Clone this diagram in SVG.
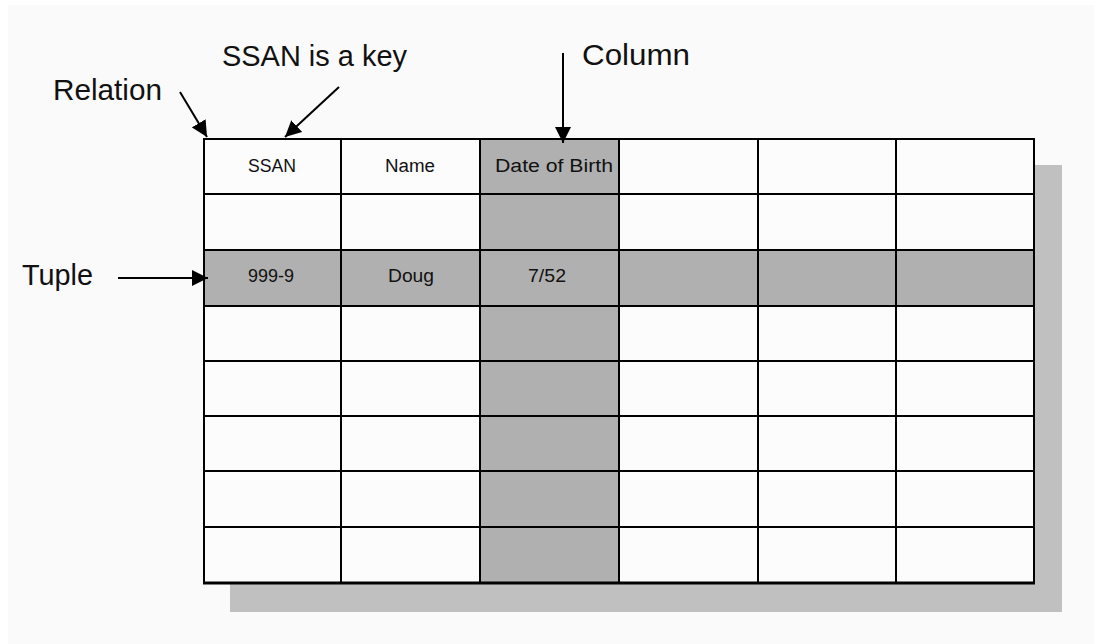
<svg xmlns="http://www.w3.org/2000/svg" width="1094" height="644" viewBox="0 0 1094 644">
  <style>
    .label { font-family: "Liberation Sans", Arial, sans-serif; font-size: 29px; fill: #111; }
    .cell { font-family: "Liberation Sans", Arial, sans-serif; font-size: 18px; fill: #111; text-anchor: middle; }
    .grid { stroke: #000; stroke-width: 2; fill: none; }
    .conn { stroke: #000; stroke-width: 2; fill: none; marker-end: url(#head); }
    .hi { fill: #b0b0b0; }
  </style>
  <defs>
    <marker id="head" viewBox="0 0 10 10" refX="10" refY="5" markerWidth="8" markerHeight="8" markerUnits="strokeWidth" orient="auto">
      <path d="M0,0 L10,5 L0,10 Z" fill="#000"/>
    </marker>
  </defs>

  <!-- page -->
  <rect x="0" y="0" width="1094" height="644" fill="#ffffff"/>
  <rect x="8" y="5" width="1086" height="639" fill="#fafafa"/>

  <!-- relation table -->
  <g id="relation">
    <rect x="230" y="165" width="832" height="447" fill="#c0c0c0"/>
    <rect x="204" y="139" width="830" height="444" fill="#fcfcfc"/>
    <!-- highlighted column and tuple -->
    <rect class="hi" x="480" y="139" width="139" height="444"/>
    <rect class="hi" x="204" y="250" width="830" height="56"/>
    <!-- grid -->
    <g class="grid">
      <path d="M341,139 V583 M480,139 V583 M619,139 V583 M758,139 V583 M896,139 V583"/>
      <path d="M204,194 H1034 M204,250 H1034 M204,306 H1034 M204,361 H1034 M204,416 H1034 M204,471 H1034 M204,527 H1034"/>
      <rect x="204" y="139" width="830" height="444"/>
    </g>
    <path d="M203,583 H1035" stroke="#000" stroke-width="3"/>
    <!-- header row -->
    <text class="cell" x="272" y="172" textLength="48" lengthAdjust="spacingAndGlyphs">SSAN</text>
    <text class="cell" x="410" y="172" textLength="50" lengthAdjust="spacingAndGlyphs">Name</text>
    <text class="cell" x="554" y="172" textLength="118" lengthAdjust="spacingAndGlyphs">Date of Birth</text>
    <!-- tuple row -->
    <text class="cell" x="271" y="282" textLength="46" lengthAdjust="spacingAndGlyphs">999-9</text>
    <text class="cell" x="411" y="282" textLength="46" lengthAdjust="spacingAndGlyphs">Doug</text>
    <text class="cell" x="547" y="282" textLength="38" lengthAdjust="spacingAndGlyphs">7/52</text>
  </g>

  <!-- callout labels -->
  <g id="label-relation"><text class="label" x="53" y="100" textLength="109" lengthAdjust="spacingAndGlyphs">Relation</text></g>
  <g id="label-key"><text class="label" x="222" y="66" textLength="185" lengthAdjust="spacingAndGlyphs">SSAN is a key</text></g>
  <g id="label-column"><text class="label" x="582" y="65" textLength="108" lengthAdjust="spacingAndGlyphs">Column</text></g>
  <g id="label-tuple"><text class="label" x="22" y="285" textLength="71" lengthAdjust="spacingAndGlyphs">Tuple</text></g>

  <!-- connectors -->
  <g id="connectors">
    <path class="conn" d="M180,92 L207,137"/>
    <path class="conn" d="M339,87 L285,137"/>
    <path class="conn" d="M563,53 L563,143"/>
    <path class="conn" d="M118,278 L208,278"/>
  </g>
</svg>
